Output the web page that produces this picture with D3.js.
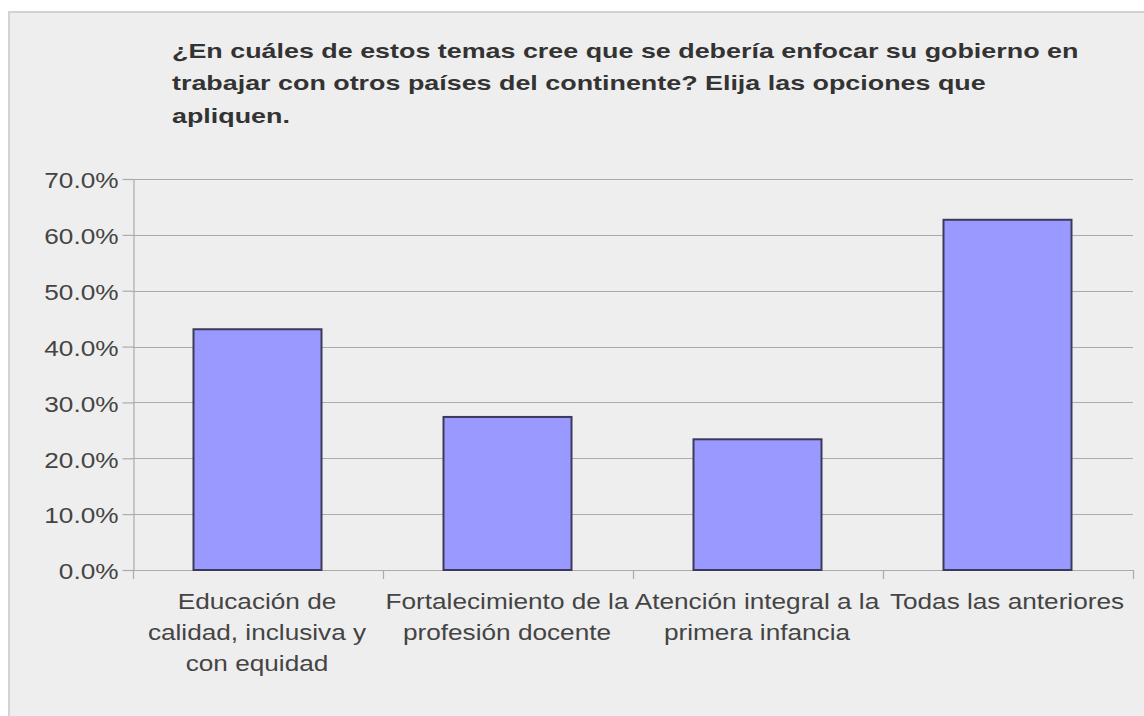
<!DOCTYPE html>
<html>
<head>
<meta charset="utf-8">
<script src="https://cdn.jsdelivr.net/npm/d3@7"></script>
<style>
  html, body { margin: 0; padding: 0; background: #ffffff; }
  svg { display: block; }
</style>
</head>
<body>
<svg id="chart" width="1144" height="716"></svg>
<script>
// ---- data ----
const titleLines = [
  "¿En cuáles de estos temas cree que se debería enfocar su gobierno en",
  "trabajar con otros países del continente? Elija las opciones que",
  "apliquen."
];
const categories = [
  "Educación de calidad, inclusiva y con equidad",
  "Fortalecimiento de la profesión docente",
  "Atención integral a la primera infancia",
  "Todas las anteriores"
];
const categoryLines = [
  ["Educación de", "calidad, inclusiva y", "con equidad"],
  ["Fortalecimiento de la", "profesión docente"],
  ["Atención integral a la", "primera infancia"],
  ["Todas las anteriores"]
];
const values = [0.431, 0.274, 0.234, 0.627];
const yTicks = [0, 0.1, 0.2, 0.3, 0.4, 0.5, 0.6, 0.7];

// ---- layout ----
const SX = 1.19;       // horizontal text stretch (axis labels)
const SX_TITLE = 1.28; // horizontal text stretch (title)
const plot = { left: 133, right: 1133, top: 179, bottom: 570 };
const svg = d3.select("#chart");

function stretch(sel, sx = SX) {
  sel.each(function () {
    const t = d3.select(this);
    const x = +t.attr("x") || 0;
    t.attr("transform", `translate(${x},0) scale(${sx},1) translate(${-x},0)`);
  });
}

// panel
svg.append("rect")
  .attr("x", 9).attr("y", 12)
  .attr("width", 1160).attr("height", 740)
  .attr("fill", "#eeeeee")
  .attr("stroke", "#d2d2d2").attr("stroke-width", 2);

// title
const title = svg.append("g").attr("font-family", "'Liberation Sans', Arial, sans-serif")
  .attr("font-weight", "bold").attr("font-size", 21).attr("fill", "#333333");
title.selectAll("text").data(titleLines).join("text")
  .attr("x", 172).attr("y", (d, i) => 58 + i * 32.5)
  .text(d => d)
  .call(stretch, SX_TITLE);

// scales
const y = d3.scaleLinear().domain([0, 0.7]).range([plot.bottom, plot.top]);
const xBand = d3.scaleBand().domain(categories).range([plot.left, plot.right]).padding(0);
const xBar = d3.scaleBand().domain(categories).range([plot.left, plot.right])
  .paddingInner(0.488).paddingOuter(0.244);

// gridlines
svg.append("g").selectAll("line").data(yTicks).join("line")
  .attr("x1", plot.left).attr("x2", plot.right)
  .attr("y1", d => Math.round(y(d)) + 0.5).attr("y2", d => Math.round(y(d)) + 0.5)
  .attr("stroke", "#ababab").attr("stroke-width", 1.2);

// y axis
const yAxis = svg.append("g")
  .attr("transform", `translate(${plot.left + 0.5},0)`)
  .call(d3.axisLeft(y).tickValues(yTicks).tickFormat(d3.format(".1%"))
    .tickSize(11).tickSizeOuter(0).tickPadding(4));
yAxis.select(".domain").attr("stroke", "#ababab").attr("stroke-width", 1.2);
yAxis.selectAll(".tick line").attr("stroke", "#ababab").attr("stroke-width", 1.2);
yAxis.selectAll(".tick text")
  .attr("font-family", "'Liberation Sans', Arial, sans-serif")
  .attr("font-size", 22).attr("fill", "#444444").attr("dy", "0.4em")
  .call(stretch);

// x axis boundary ticks
const bounds = categories.map(c => xBand(c)).concat([xBand.range()[1]]);
svg.append("g").selectAll("line").data(bounds).join("line")
  .attr("x1", d => Math.round(d) + 0.5).attr("x2", d => Math.round(d) + 0.5)
  .attr("y1", plot.bottom).attr("y2", plot.bottom + 9)
  .attr("stroke", "#ababab").attr("stroke-width", 1.2);

// bars
svg.append("g").selectAll("rect").data(values).join("rect")
  .attr("x", (d, i) => xBar(categories[i]) - 0.5)
  .attr("y", d => y(d))
  .attr("width", xBar.bandwidth())
  .attr("height", d => y(0) - y(d))
  .attr("fill", "#9999ff")
  .attr("stroke", "#3a3a5a").attr("stroke-width", 2);

// category labels
const xl = svg.append("g").attr("font-family", "'Liberation Sans', Arial, sans-serif")
  .attr("font-size", 22).attr("fill", "#444444").attr("text-anchor", "middle");
categories.forEach((c, i) => {
  xl.selectAll(null).data(categoryLines[i]).join("text")
    .attr("x", xBand(c) + xBand.bandwidth() / 2 - 1)
    .attr("y", (d, j) => 609 + j * 31)
    .text(d => d)
    .call(stretch);
});
</script>
</body>
</html>
